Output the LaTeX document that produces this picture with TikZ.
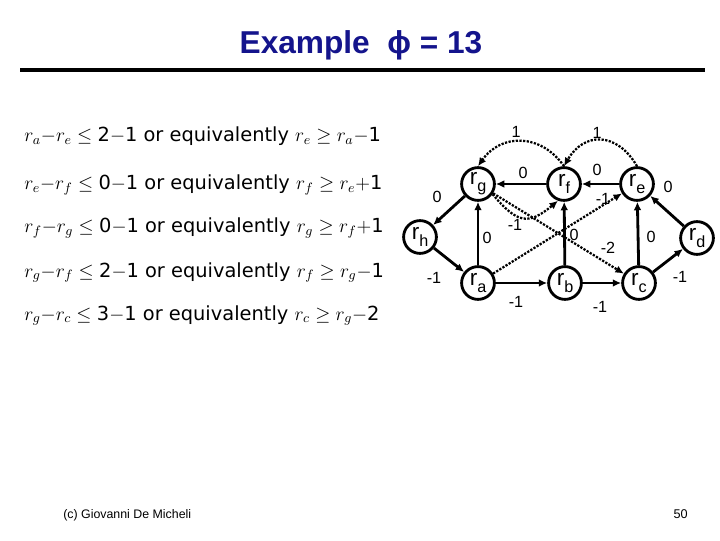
\RequirePackage{fix-cm}
\documentclass[tikz,border=0pt]{standalone}
\usepackage{amsmath}
\usepackage{amssymb}
\usepackage{fontspec}
\setmainfont{DejaVu Sans}
\newfontfamily\arialfont{Liberation Sans}
\usetikzlibrary{arrows.meta}
\definecolor{titleblue}{RGB}{20,20,140}
\newcommand{\rsub}[1]{r\raisebox{-5pt}{\fontsize{11.5}{12}\selectfont #1}}

\begin{document}
\begin{tikzpicture}[x=0.025cm,y=0.025cm,
    rnode/.style={circle,draw,line width=2pt,minimum size=0.82cm,inner sep=0pt,
      font=\arialfont\fontsize{16}{16}\selectfont},
    wlab/.style={font=\arialfont\fontsize{11.5}{12}\selectfont,inner sep=0pt},
    edge/.style={line width=2pt,-{Latex[length=6pt,width=5.5pt]}},
    dedge/.style={line width=1.6pt,dash pattern=on 1.6pt off 1pt,-{Latex[length=6pt,width=5.5pt]}},
    eqline/.style={anchor=base west,inner sep=0pt,font=\fontsize{13.8}{16}\selectfont}]
  \fill[white] (0,0) rectangle (720,540);
  \useasboundingbox (0,0) rectangle (720,540);
  \node[font=\arialfont\bfseries\fontsize{22.5}{26}\selectfont,text=titleblue] (title) at (361,495) {Example\ \ ϕ = 13};
  \draw[line width=3.5pt] (20,470) -- (705,470);
  \node[eqline] (c1) at (24,398) {$r_a{-}r_e\le{}$2$-$1 or equivalently $r_e\ge r_a{-}$1};
  \node[eqline] (c2) at (24,350) {$r_e{-}r_f\le{}$0$-$1 or equivalently $r_f\ge r_e{+}$1};
  \node[eqline] (c3) at (24,307) {$r_f{-}r_g\le{}$0$-$1 or equivalently $r_g\ge r_f{+}$1};
  \node[eqline] (c4) at (24,263) {$r_g{-}r_f\le{}$2$-$1 or equivalently $r_f\ge r_g{-}$1};
  \node[eqline] (c5) at (24,220) {$r_g{-}r_c\le{}$3$-$1 or equivalently $r_c\ge r_g{-}$2};
  \node[rnode] (rg) at (478,356) {\rsub{g}};
  \node[rnode] (rf) at (564,356) {\rsub{f}};
  \node[rnode] (re) at (637,356) {\rsub{e}};
  \node[rnode] (rh) at (420,303) {\rsub{h}};
  \node[rnode] (rd) at (697,302) {\rsub{d}};
  \node[rnode] (ra) at (478,257) {\rsub{a}};
  \node[rnode] (rb) at (565,257) {\rsub{b}};
  \node[rnode] (rc) at (639,257) {\rsub{c}};
  \foreach \a/\b in {rf/rg,re/rf,rg/rh,rh/ra,ra/rg,ra/rb,rb/rf,rb/rc,rc/re,rc/rd,rd/re}
    \draw[edge] (\a) -- (\b);
  \draw[dedge] (rf.north) to[bend right=55,looseness=1.2] (rg.north);
  \draw[dedge] (re.north) to[bend right=60,looseness=1.4] (rf.north);
  \draw[dedge] (rg.-35) to[out=-50,in=-140,looseness=1.5] (rf.-110);
  \draw[dedge] (rg) -- (rc);
  \draw[dedge] (ra) -- (re);
  \foreach \n/\x/\y/\t in {1/516/408/1,2/597/407/1,3/523/367/0,4/597/370/0,
      5/437/343/0,6/668/353/0,7/603/341/-1,8/515/315/-1,9/487/302/0,
      10/574/305/0,11/608/292/-2,12/651/303/0,13/434/262/-1,14/516/238/-1,
      15/600/233/-1,16/680/263/-1}
    \node[wlab] (w\n) at (\x,\y) {\t};
  \node[font=\arialfont\fontsize{8.8}{10}\selectfont,anchor=base west,inner sep=0pt] (credit) at (63,22) {(c) Giovanni De Micheli};
  \node[font=\arialfont\fontsize{9}{10}\selectfont,anchor=base east,inner sep=0pt] (pageno) at (688,22) {50};
\end{tikzpicture}
\end{document}
